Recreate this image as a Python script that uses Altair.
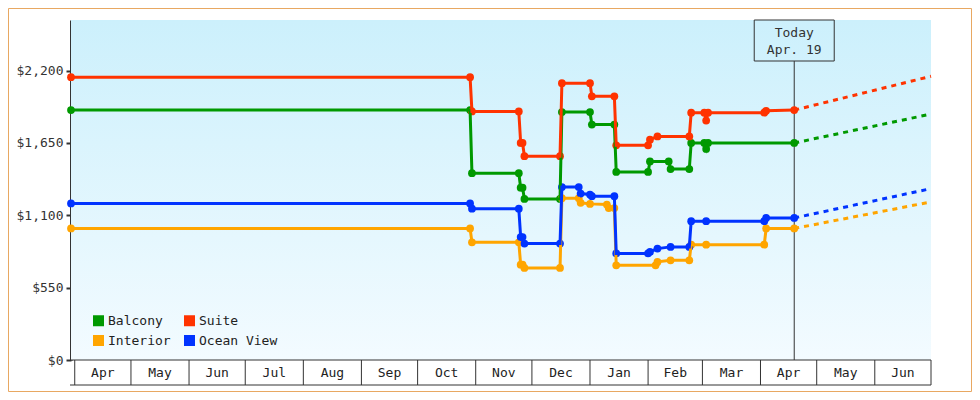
import altair as alt
import pandas as pd

# ---------------- data ----------------
# legend is filled column by column: Balcony/Interior in the first column, Suite/Ocean View in the second
SERIES = ["Balcony", "Interior", "Suite", "Ocean View"]
COLORS = ["#009900", "#ffa500", "#ff3300", "#0033ff"]

suite_dates = ["2023-03-30", "2023-10-29", "2023-10-30", "2023-11-24", "2023-11-25", "2023-11-26",
               "2023-11-27", "2023-12-16", "2023-12-17", "2024-01-01", "2024-01-02", "2024-01-14",
               "2024-01-15", "2024-02-01", "2024-02-02", "2024-02-06", "2024-02-23", "2024-02-24",
               "2024-03-02", "2024-03-03", "2024-03-04", "2024-04-03", "2024-04-04", "2024-04-19"]
suite_prices = [2150, 2150, 1890, 1890, 1650, 1650,
                1550, 1550, 2105, 2105, 2005, 2005,
                1632, 1632, 1675, 1700, 1700, 1880,
                1880, 1820, 1880, 1880, 1895, 1900]

balcony_dates = ["2023-03-30", "2023-10-29", "2023-10-30", "2023-11-24", "2023-11-25", "2023-11-26",
                 "2023-11-27", "2023-12-16", "2023-12-17", "2024-01-01", "2024-01-02", "2024-01-14",
                 "2024-01-15", "2024-02-01", "2024-02-02", "2024-02-12", "2024-02-13", "2024-02-23",
                 "2024-02-24", "2024-03-02", "2024-03-03", "2024-03-04", "2024-04-19"]
balcony_prices = [1900, 1900, 1420, 1420, 1310, 1310,
                  1225, 1225, 1885, 1885, 1790, 1790,
                  1430, 1430, 1510, 1510, 1452, 1452,
                  1650, 1650, 1605, 1650, 1650]

ocean_dates = ["2023-03-30", "2023-10-29", "2023-10-30", "2023-11-24", "2023-11-25", "2023-11-26",
               "2023-11-27", "2023-12-16", "2023-12-17", "2023-12-26", "2023-12-27", "2024-01-01",
               "2024-01-02", "2024-01-14", "2024-01-15", "2024-02-01", "2024-02-02", "2024-02-06",
               "2024-02-13", "2024-02-23", "2024-02-24", "2024-03-03", "2024-04-03", "2024-04-04",
               "2024-04-19"]
ocean_prices = [1190, 1190, 1150, 1150, 935, 935,
                885, 885, 1315, 1315, 1265, 1258,
                1245, 1245, 810, 810, 822, 847,
                860, 860, 1055, 1055, 1055, 1080,
                1080]

interior_dates = ["2023-03-30", "2023-10-29", "2023-10-30", "2023-11-24", "2023-11-25", "2023-11-26",
                  "2023-11-27", "2023-12-16", "2023-12-17", "2023-12-26", "2023-12-27", "2024-01-01",
                  "2024-01-10", "2024-01-11", "2024-01-14", "2024-01-15", "2024-02-05", "2024-02-06",
                  "2024-02-13", "2024-02-23", "2024-02-24", "2024-03-03", "2024-04-03", "2024-04-04",
                  "2024-04-19"]
interior_prices = [1000, 1000, 895, 895, 725, 725,
                   700, 700, 1230, 1230, 1195, 1187,
                   1182, 1155, 1155, 720, 720, 746,
                   758, 758, 877, 877, 877, 1000,
                   1000]

today_date = "2024-04-19"
today_lines = ["Today", "Apr. 19"]
projection_end_date = "2024-07-01"
projection_end_prices = {"Balcony": 1870, "Suite": 2157, "Interior": 1202, "Ocean View": 1303}

y_ticks = [0, 550, 1100, 1650, 2200]
y_max = 2585

# ---------------- tables ----------------
hist_rows = []
for name, ds, vs in [("Balcony", balcony_dates, balcony_prices),
                     ("Suite", suite_dates, suite_prices),
                     ("Interior", interior_dates, interior_prices),
                     ("Ocean View", ocean_dates, ocean_prices)]:
    for d, v in zip(ds, vs):
        hist_rows.append({"cabin": name, "date": d, "price": v})
hist = pd.DataFrame(hist_rows)

proj_rows = []
for name in SERIES:
    last = hist[hist.cabin == name].iloc[-1]
    proj_rows.append({"cabin": name, "date": today_date, "price": last.price})
    proj_rows.append({"cabin": name, "date": projection_end_date, "price": projection_end_prices[name]})
proj = pd.DataFrame(proj_rows)

month_starts = pd.date_range("2023-04-01", "2024-07-01", freq="MS")
months = pd.DataFrame({
    "edge": [d.strftime("%Y-%m-%d") for d in month_starts[:-1]],
    "mid": [(a + (b - a) / 2).strftime("%Y-%m-%dT%H:%M:%SZ") for a, b in zip(month_starts[:-1], month_starts[1:])],
    "label": [d.strftime("%b") for d in month_starts[:-1]],
})
last_edge = pd.DataFrame({"edge": [month_starts[-1].strftime("%Y-%m-%d")]})
today_df = pd.DataFrame({"date": [today_date], "l1": [today_lines[0]], "l2": [today_lines[1]]})
one = pd.DataFrame({"a": [0]})

# ---------------- chart ----------------
W, H = 860, 340
FONT = "DejaVu Sans Mono"
INK = "#333333"

x_scale = alt.Scale(type="utc", domain=[alt.DateTime(year=2023, month=3, date=30, utc=True),
                                        alt.DateTime(year=2024, month=7, date=1, utc=True)])
y_scale = alt.Scale(domain=[0, y_max], nice=False, zero=True)
color_scale = alt.Scale(domain=SERIES, range=COLORS)

def X(field):
    return alt.X(field, scale=x_scale, axis=None)

Y_AXIS = alt.Axis(
    values=y_ticks, format="$,d", title=None, grid=False,
    domainColor=INK, domainWidth=3, tickColor=INK, tickWidth=2, tickSize=5,
    labelFont=FONT, labelFontSize=13, labelColor=INK, labelPadding=3)

def Y():
    return alt.Y("price:Q", scale=y_scale, axis=Y_AXIS)

LEGEND = alt.Legend(
    orient="none", legendX=21, legendY=294, columns=2, title=None,
    symbolType="square", symbolSize=121, symbolStrokeWidth=0, symbolOpacity=1,
    labelFont=FONT, labelFontSize=13, labelColor="#222", labelOffset=3,
    columnPadding=12, rowPadding=6, padding=0)

def C():
    return alt.Color("cabin:N", scale=color_scale, legend=LEGEND)

bg = alt.Chart(one).mark_rect(
    fill=alt.Gradient(gradient="linear", x1=0, x2=0, y1=0, y2=1,
                      stops=[alt.GradientStop(color="#ccf0fc", offset=0),
                             alt.GradientStop(color="#f3fbff", offset=1)])
).encode(x=alt.value(0), x2=alt.value(W), y=alt.value(0), y2=alt.value(H))

month_rules = alt.Chart(months).mark_rule(color=INK, strokeWidth=1).encode(
    x=X("edge:T"), y=alt.value(H), y2=alt.value(H + 25))
end_rule = alt.Chart(last_edge).mark_rule(color=INK, strokeWidth=1).encode(
    x=X("edge:T"), y=alt.value(H), y2=alt.value(H + 25))
month_text = alt.Chart(months).mark_text(font=FONT, fontSize=13, color="#222", baseline="middle").encode(
    x=X("mid:T"), y=alt.value(H + 13), text="label:N")
bottom_line = alt.Chart(one).mark_rule(color=INK, strokeWidth=1).encode(
    x=alt.value(-1), x2=alt.value(W), y=alt.value(H + 25))
top_line = alt.Chart(one).mark_rule(color=INK, strokeWidth=1).encode(
    x=alt.value(0), x2=alt.value(W), y=alt.value(H))

today_rule = alt.Chart(today_df).mark_rule(color=INK, strokeWidth=1).encode(
    x=X("date:T"), y=alt.value(41), y2=alt.value(H))
today_box = alt.Chart(today_df).mark_rect(xOffset=-40, x2Offset=40, fillOpacity=0,
                                          stroke=INK, strokeWidth=1).encode(
    x=X("date:T"), x2="date:T", y=alt.value(0), y2=alt.value(41))
today_t1 = alt.Chart(today_df).mark_text(font=FONT, fontSize=13, color=INK, baseline="middle").encode(
    x=X("date:T"), y=alt.value(12.5), text="l1:N")
today_t2 = alt.Chart(today_df).mark_text(font=FONT, fontSize=13, color=INK, baseline="middle").encode(
    x=X("date:T"), y=alt.value(30), text="l2:N")

points = alt.Chart(hist).mark_point(shape="circle", filled=True, size=60, opacity=1).encode(
    x=X("date:T"), y=Y(), color=C())
lines = alt.Chart(hist).mark_line(strokeWidth=3).encode(x=X("date:T"), y=Y(), color=C())
proj_lines = alt.Chart(proj).mark_line(strokeWidth=3, strokeDash=[5, 5]).encode(
    x=X("date:T"), y=Y(), color=C())

border = alt.Chart(one).mark_rect(fillOpacity=0, stroke="#e8a862", strokeWidth=1).encode(
    x=alt.value(-62.5), x2=alt.value(W + 40.5), y=alt.value(-11.5), y2=alt.value(H + 31.5))

chart = alt.layer(
    bg, month_rules, end_rule, month_text, bottom_line, top_line,
    today_rule, today_box, today_t1, today_t2,
    points, lines, proj_lines, border
).properties(
    width=W, height=H,
    autosize=alt.AutoSizeParams(type="none"),
    padding={"left": 63, "top": 12, "right": 41, "bottom": 32},
    background="white",
).configure_view(stroke=None)

chart.save("out.html", embed_options={"renderer": "svg", "actions": False})
